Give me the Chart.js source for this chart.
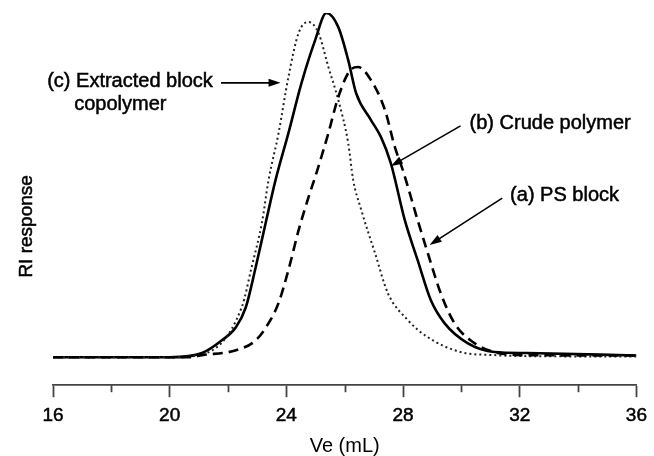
<!DOCTYPE html>
<html>
<head>
<meta charset="utf-8">
<title>GPC traces</title>
<script src="https://cdn.jsdelivr.net/npm/chart.js@4.4.1/dist/chart.umd.min.js"></script>
<style>
  html, body { margin: 0; padding: 0; background: #fff; }
  #wrap { width: 654px; height: 456px; position: relative; }
</style>
</head>
<body>
<div id="wrap"><canvas id="chart"></canvas></div>
<script>
// tick labels on the elution volume axis
const veTicks = [16, 20, 24, 28, 32, 36];
const veMinorTicks = [18, 22, 26, 30, 34];

// (a) PS block - dashed
const psVe = [16, 20.67, 21.11, 22.27, 22.95, 23.39, 23.73, 24.07, 24.42, 24.76, 25.03, 25.44, 25.78, 26.19, 26.46, 26.9, 27.38, 27.72, 27.99, 28.5, 28.85, 29.29, 29.76, 30.31, 31.13, 32.25, 36];
const psRI = [0, 0, 0.006, 0.02, 0.049, 0.099, 0.157, 0.253, 0.369, 0.465, 0.535, 0.651, 0.756, 0.834, 0.843, 0.805, 0.718, 0.61, 0.544, 0.398, 0.302, 0.186, 0.099, 0.049, 0.015, 0.006, 0.005];

// (b) crude polymer - solid
const crudeVe = [16, 19.99, 21.11, 21.79, 22.27, 22.61, 22.95, 23.29, 23.63, 24.07, 24.52, 24.99, 25.37, 25.78, 26.12, 26.39, 26.9, 27.24, 27.58, 28.06, 28.5, 28.95, 29.42, 30.21, 31.13, 32.25, 36];
const crudeRI = [0, 0, 0.012, 0.049, 0.087, 0.145, 0.262, 0.39, 0.515, 0.651, 0.797, 0.922, 1.0, 0.959, 0.863, 0.767, 0.689, 0.64, 0.564, 0.398, 0.282, 0.166, 0.099, 0.041, 0.015, 0.012, 0.005];

// (c) extracted block copolymer - dotted
const extractVe = [16, 19.99, 21.11, 22.47, 22.81, 23.16, 23.39, 23.73, 24.07, 24.42, 24.76, 25.1, 25.44, 25.78, 26.12, 26.29, 26.56, 27.04, 27.48, 28.16, 28.85, 29.97, 31.13, 32.25, 36];
const extractRI = [0, 0, 0.008, 0.145, 0.262, 0.39, 0.515, 0.65, 0.814, 0.942, 0.974, 0.942, 0.843, 0.747, 0.622, 0.515, 0.43, 0.302, 0.186, 0.108, 0.058, 0.015, 0.006, 0.003, 0.002];

const FONT = "'Liberation Sans', Arial, Helvetica, sans-serif";
const INK = '#000';
const AXIS = '#444';

const toPoints = (xs, ys) => xs.map((v, i) => ({ x: v, y: ys[i] }));

// labels + arrows, placed in data units
const notes = [
    { lines: ['(c) Extracted block', 'copolymer'], at: [15.8, 0.802], indent: [0, 0.92],
      arrow: { from: [21.76, 0.797], to: [23.8, 0.797] } },
    { lines: ['(b) Crude polymer'], at: [30.28, 0.68], indent: [0],
      arrow: { from: [29.97, 0.672], to: [27.58, 0.555] } },
    { lines: ['(a) PS block'], at: [31.67, 0.471], indent: [0],
      arrow: { from: [31.4, 0.462], to: [28.91, 0.326] } }
];

const extras = {
    id: 'extras',
    afterDraw(chart) {
        const { ctx, scales: { x, y } } = chart;
        const axisY = chart.chartArea.bottom;
        ctx.save();

        // minor ticks
        ctx.strokeStyle = AXIS;
        ctx.lineWidth = 1.8;
        veMinorTicks.forEach(v => {
            const px = Math.round(x.getPixelForValue(v)) + 0.5;
            ctx.beginPath();
            ctx.moveTo(px, axisY);
            ctx.lineTo(px, axisY + 7);
            ctx.stroke();
        });

        // annotations (thin stroke to thicken the glyphs a bit, like the scan)
        ctx.fillStyle = INK;
        ctx.strokeStyle = INK;
        ctx.font = '20px ' + FONT;
        ctx.textBaseline = 'middle';
        ctx.textAlign = 'left';
        notes.forEach(n => {
            const tx = x.getPixelForValue(n.at[0]);
            const ty = y.getPixelForValue(n.at[1]);
            ctx.lineWidth = 0.5;
            n.lines.forEach((t, i) => {
                const lx = tx + n.indent[i] * 29.35;
                ctx.fillText(t, lx, ty + i * 23);
                ctx.strokeText(t, lx, ty + i * 23);
            });
            const x1 = x.getPixelForValue(n.arrow.from[0]);
            const y1 = y.getPixelForValue(n.arrow.from[1]);
            const x2 = x.getPixelForValue(n.arrow.to[0]);
            const y2 = y.getPixelForValue(n.arrow.to[1]);
            const ang = Math.atan2(y2 - y1, x2 - x1);
            ctx.lineWidth = 1.6;
            ctx.beginPath();
            ctx.moveTo(x1, y1);
            ctx.lineTo(x2 - 8 * Math.cos(ang), y2 - 8 * Math.sin(ang));
            ctx.stroke();
            ctx.beginPath();
            ctx.moveTo(x2, y2);
            ctx.lineTo(x2 - 12 * Math.cos(ang) + 4 * Math.sin(ang), y2 - 12 * Math.sin(ang) - 4 * Math.cos(ang));
            ctx.lineTo(x2 - 12 * Math.cos(ang) - 4 * Math.sin(ang), y2 - 12 * Math.sin(ang) + 4 * Math.cos(ang));
            ctx.closePath();
            ctx.fill();
        });

        // y axis title
        ctx.font = '19px ' + FONT;
        ctx.lineWidth = 0.5;
        ctx.translate(27, y.getPixelForValue(0.38));
        ctx.rotate(-Math.PI / 2);
        ctx.textAlign = 'center';
        ctx.fillText('RI response', 0, 0);
        ctx.strokeText('RI response', 0, 0);
        ctx.restore();
    }
};

const lineDefaults = {
    fill: false,
    pointRadius: 0,
    cubicInterpolationMode: 'monotone',
    borderColor: INK
};

new Chart(document.getElementById('chart'), {
    type: 'line',
    data: {
        datasets: [
            { ...lineDefaults, label: '(a) PS block', data: toPoints(psVe, psRI), borderWidth: 2.6, borderDash: [10, 6] },
            { ...lineDefaults, label: '(c) Extracted block copolymer', data: toPoints(extractVe, extractRI), borderWidth: 2, borderDash: [2, 3], borderColor: '#222' },
            { ...lineDefaults, label: '(b) Crude polymer', data: toPoints(crudeVe, crudeRI), borderWidth: 2.6 }
        ]
    },
    options: {
        responsive: true,
        maintainAspectRatio: false,
        animation: false,
        layout: { padding: { left: 53, right: 14, top: 13, bottom: 0 } },
        plugins: {
            legend: { display: false },
            tooltip: { enabled: false }
        },
        scales: {
            x: {
                type: 'linear',
                min: 16,
                max: 36,
                afterBuildTicks: axis => { axis.ticks = veTicks.map(v => ({ value: v })); },
                grid: {
                    display: true,
                    drawOnChartArea: false,
                    drawTicks: true,
                    tickLength: 12,
                    tickColor: AXIS,
                    tickWidth: 1.8
                },
                border: { display: true, color: AXIS, width: 1.8 },
                ticks: {
                    color: INK,
                    font: { size: 19, family: FONT },
                    padding: 7,
                    maxRotation: 0,
                    textStrokeColor: INK,
                    textStrokeWidth: 0.5
                },
                title: {
                    display: true,
                    text: 'Ve (mL)',
                    color: INK,
                    font: { size: 20, family: FONT, lineHeight: 1 },
                    padding: { top: 2, bottom: 0 }
                }
            },
            y: {
                display: false,
                min: -0.0814,
                max: 1.0
            }
        }
    },
    plugins: [extras]
});
</script>
</body>
</html>
